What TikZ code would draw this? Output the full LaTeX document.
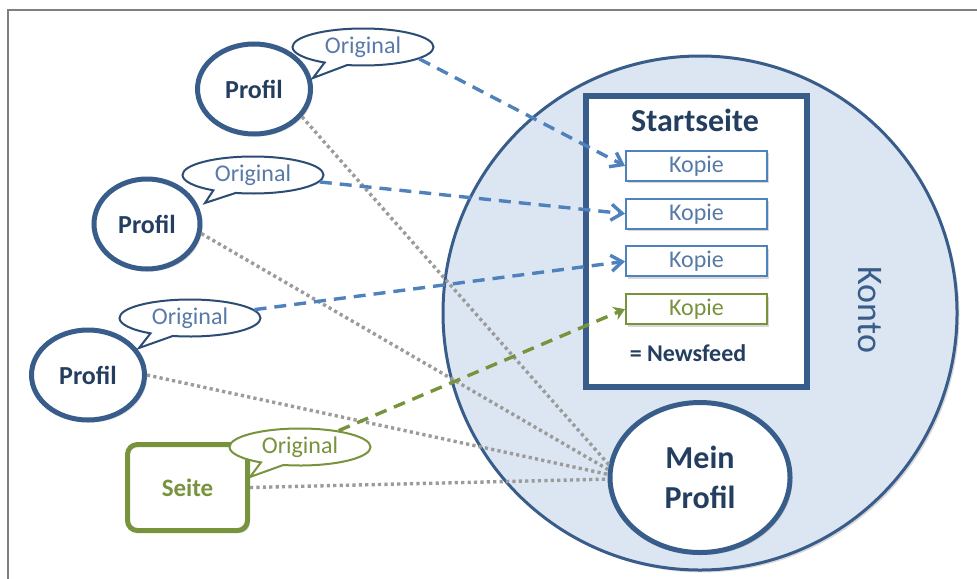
\documentclass[tikz,border=0pt]{standalone}
\usepackage{fontspec}
\setmainfont{Carlito}
\usetikzlibrary{shapes,shapes.callouts,positioning,calc,arrows.meta,shadows}

\definecolor{rahmengrau}{RGB}{127,127,127}
\definecolor{navy}{RGB}{36,62,96}
\definecolor{randblau}{RGB}{56,93,138}
\definecolor{blasenrand}{RGB}{44,76,116}
\definecolor{kontoblau}{RGB}{220,230,242}
\definecolor{pfeilblau}{RGB}{79,129,189}
\definecolor{schriftblau}{RGB}{88,122,168}
\definecolor{seitegruen}{RGB}{119,147,60}
\definecolor{punktgrau}{RGB}{155,155,155}

\begin{document}
\begin{tikzpicture}[
    x=0.5pt, y=-0.5pt,
    node distance=23.85pt,
    schatten/.style={drop shadow={shadow xshift=1.2pt,shadow yshift=-1.2pt,opacity=0.3}},
    profil/.style={ellipse,draw=randblau,line width=2.5pt,fill=white,inner sep=0pt,minimum width=56.5pt,minimum height=45pt,text=navy,font=\bfseries\fontsize{13}{15}\selectfont,schatten},
    seitebox/.style={rectangle,rounded corners=5pt,draw=seitegruen,line width=2.5pt,fill=white,inner sep=0pt,minimum width=60pt,minimum height=43pt,text=seitegruen,font=\bfseries\fontsize{12.5}{15}\selectfont,schatten},
    blase/.style={ellipse callout,callout pointer arc=20,draw=blasenrand,line width=1pt,fill=white,inner sep=0pt,minimum width=70.5pt,minimum height=18.5pt,text=schriftblau,font=\fontsize{12}{14}\selectfont},
    kopie/.style={rectangle,draw=pfeilblau,line width=1pt,fill=white,inner sep=0pt,minimum width=70.5pt,minimum height=15pt,text=schriftblau,font=\fontsize{12}{14}\selectfont,schatten},
    pfeil/.style={draw=pfeilblau,line width=1.7pt,dash pattern=on 6pt off 4pt,-{Straight Barb[length=5.5pt,width=8pt]}},
    punkt/.style={draw=punktgrau,line width=1.7pt,dash pattern=on 1.6pt off 1.6pt}
    ]
        \path [use as bounding box,fill=white] (0,0) rectangle (977,578);
        \draw [rahmengrau,line width=1pt] (7.5,590) -- (7.5,10) -- (990,10);
        % Konto mit Startseite
        \node [circle,draw=randblau,line width=1.5pt,fill=kontoblau,minimum size=257pt,schatten](konto) at (700,313) {};
        \node [text=randblau,rotate=-90,font=\fontsize{18}{21}\selectfont](kontotext) at (870,310) {Konto};
        \node [rectangle,draw=randblau,line width=3pt,fill=white,minimum width=110.5pt,minimum height=145.5pt,schatten](start) at (696.5,241.5) {};
        \node [text=navy,font=\bfseries\fontsize{16}{19}\selectfont](titel) at (695,120) {Startseite};
        \node [kopie](k1) at (696.5,166) {Kopie};
        \node [kopie](k2) [below of=k1] {Kopie};
        \node [kopie](k3) [below of=k2] {Kopie};
        \node [kopie,draw=seitegruen,text=seitegruen](k4) [below of=k3] {Kopie};
        \node [text=navy,font=\bfseries\fontsize{12}{14}\selectfont](feed) at (688,353) {= Newsfeed};
        \node [profil,minimum width=90pt,minimum height=75pt,align=center,font=\bfseries\fontsize{16}{20}\selectfont](mein) at (700,477.5) {Mein\\Profil};
        % Profile und Seite
        \node [profil](p1) at (254,89) {Profil};
        \node [profil,minimum width=53pt](p2) at (147,224) {Profil};
        \node [profil](p3) at (88,375) {Profil};
        \node [seitebox](seite) at (187.5,487.5) {Seite};
        \node [blase,callout absolute pointer={(313,78)}](o1) at (363,47) {Original};
        \node [blase,callout absolute pointer={(205,203)}](o2) at (253,175) {Original};
        \node [blase,callout absolute pointer={(139,348)}](o3) at (190,318) {Original};
        \node [blase,draw=seitegruen,text=seitegruen,callout absolute pointer={(250,477)}](o4) at (300,447) {Original};
        % Verbindungen
        \draw [punkt] (p1.-30) edge (mein.172);
        \draw [punkt] (p2.-10) edge (mein.175);
        \draw [punkt] (p3.east) edge (mein.178);
        \draw [punkt] (seite.east) edge (mein.181);
        \draw [pfeil] (o1.-12) -- (k1.west);
        \draw [pfeil] (o2) -- (k2.west);
        \draw [pfeil] (o3) -- (k3.west);
        \draw [pfeil,draw=seitegruen,-{Stealth[length=5.5pt,width=7pt]}] (o4) -- (k4.west);
\end{tikzpicture}
\end{document}
